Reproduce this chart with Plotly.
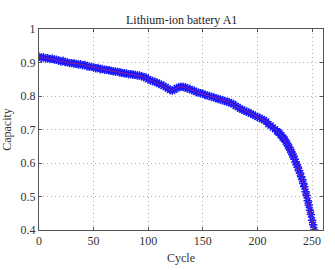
import plotly.graph_objects as go

cycles = list(range(0, 219, 2)) + list(range(219, 253))
capacity = [
    0.917, 0.914, 0.916, 0.912, 0.913, 0.910, 0.911, 0.909, 0.908, 0.906,
    0.903, 0.905, 0.901, 0.901, 0.898, 0.898, 0.897, 0.896, 0.894, 0.895,
    0.892, 0.893, 0.889, 0.888, 0.887, 0.885, 0.883, 0.884, 0.880, 0.881,
    0.878, 0.878, 0.877, 0.875, 0.874, 0.873, 0.872, 0.870, 0.869, 0.868,
    0.867, 0.865, 0.865, 0.864, 0.863, 0.861, 0.861, 0.859, 0.856, 0.855,
    0.850, 0.847, 0.845, 0.842, 0.840, 0.836, 0.834, 0.830, 0.827, 0.822,
    0.818, 0.816, 0.819, 0.824, 0.826, 0.828, 0.827, 0.826, 0.822, 0.821,
    0.817, 0.816, 0.812, 0.810, 0.808, 0.807, 0.803, 0.802, 0.800, 0.797,
    0.796, 0.793, 0.791, 0.790, 0.787, 0.785, 0.783, 0.782, 0.778, 0.776,
    0.770, 0.767, 0.762, 0.760, 0.756, 0.753, 0.751, 0.747, 0.744, 0.741,
    0.737, 0.735, 0.731, 0.728, 0.724, 0.716, 0.712, 0.706, 0.701, 0.695,
    0.692, 0.690, 0.684, 0.682, 0.676, 0.673, 0.670, 0.663, 0.659, 0.651,
    0.647, 0.639, 0.634, 0.625, 0.620, 0.611, 0.604, 0.594, 0.588, 0.577,
    0.570, 0.559, 0.551, 0.539, 0.529, 0.514, 0.503, 0.487, 0.475, 0.459,
    0.446, 0.429, 0.416, 0.400,
]

x_ticks = [0, 50, 100, 150, 200, 250]
y_ticks = [0.4, 0.5, 0.6, 0.7, 0.8, 0.9, 1.0]
y_tick_text = ["0.4", "0.5", "0.6", "0.7", "0.8", "0.9", "1"]

title_text = "Lithium-ion battery A1"
x_label = "Cycle"
y_label = "Capacity"

serif = "Liberation Serif"

fig = go.Figure()
fig.add_trace(go.Scatter(
    x=cycles, y=capacity, mode="markers",
    marker=dict(symbol="asterisk-open", size=7, color="#1a1aff",
                line=dict(width=1.5, color="#1a1aff")),
    showlegend=False, cliponaxis=True,
))
fig.add_trace(go.Scatter(
    x=cycles, y=capacity, mode="lines",
    line=dict(color="#d8204e", width=0.8),
    opacity=0.8,
    showlegend=False, cliponaxis=True,
))

axis_common = dict(
    showline=True, mirror="ticks", linecolor="#555555", linewidth=1,
    ticks="inside", ticklen=3, tickcolor="#555555",
    showgrid=True, gridcolor="#b0b0b0", griddash="1px,3px", gridwidth=1,
    zeroline=False, automargin=False,
    tickfont=dict(family=serif, size=12, color="#333333"),
)

fig.update_layout(
    width=335, height=270,
    margin=dict(l=39, r=12, t=29, b=40),
    paper_bgcolor="white", plot_bgcolor="white",
    xaxis=dict(range=[0, 260], tickvals=x_ticks, **axis_common,
               title=dict(text=x_label, standoff=6,
                          font=dict(family=serif, size=12, color="#333333"))),
    yaxis=dict(range=[0.4, 1.0], tickvals=y_ticks, ticktext=y_tick_text,
               **axis_common,
               title=dict(text=y_label, standoff=6,
                          font=dict(family=serif, size=12, color="#333333"))),
    annotations=[dict(
        text=title_text, x=0.5, y=1, xref="paper", yref="paper",
        xanchor="center", yanchor="bottom", yshift=0, showarrow=False,
        font=dict(family=serif, size=12, color="#222222"),
    )],
)

fig.write_html("out.html")
